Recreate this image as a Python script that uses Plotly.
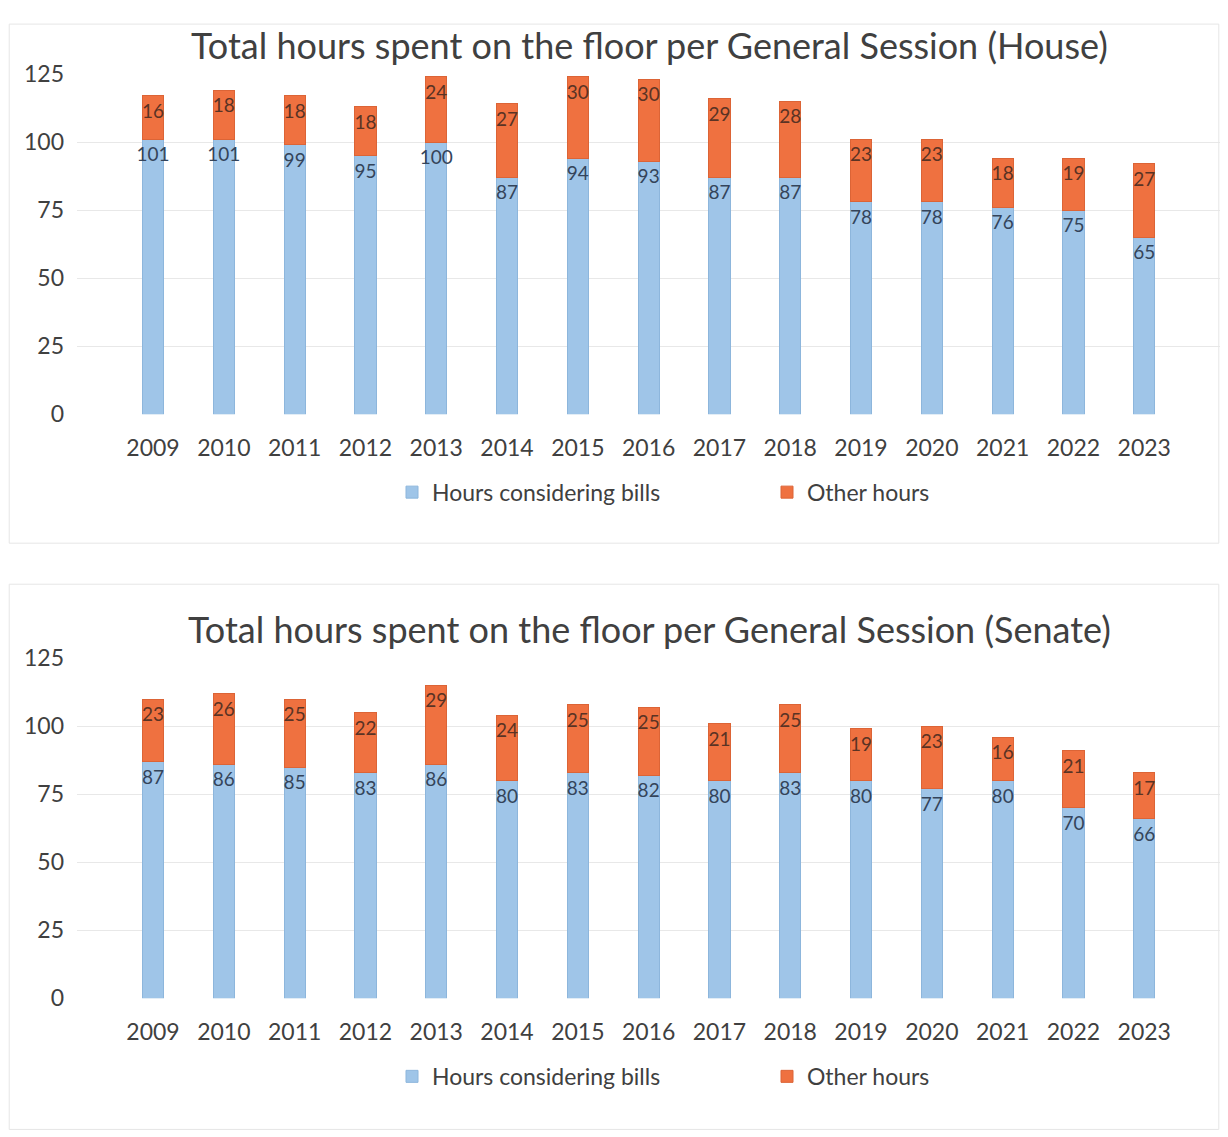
import plotly.graph_objects as go

# data
years = [str(y) for y in range(2009, 2024)]
house_bills = [101, 101, 99, 95, 100, 87, 94, 93, 87, 87, 78, 78, 76, 75, 65]
house_other = [16, 18, 18, 18, 24, 27, 30, 30, 29, 28, 23, 23, 18, 19, 27]
senate_bills = [87, 86, 85, 83, 86, 80, 83, 82, 80, 83, 80, 77, 80, 70, 66]
senate_other = [23, 26, 25, 22, 29, 24, 25, 25, 21, 25, 19, 23, 16, 21, 17]
y_ticks = [0, 25, 50, 75, 100, 125]

blue = '#9FC5E8'
orange = '#EF7140'
txt = '#404040'
font_name = 'Lato'

# the page puts the figure at x+8 and squeezes it a bit vertically,
# so map target pixel positions back into paper coords
OFF_X = 8
OFF_Y, SY = 22, 0.975
W, H = 1228 - 2 * OFF_X, 1137


def px_x(p):
    return min(max((p - OFF_X) / W, 0.0), 1.0)


def px_y(p):
    return min(max(1 - (p - OFF_Y) / SY / H, 0.0), 1.0)


fig = go.Figure()

panels = [
    (house_bills, house_other, 'x', 'y', 'legend'),
    (senate_bills, senate_other, 'x2', 'y2', 'legend2'),
]
for bills, other, xa, ya, lg in panels:
    fig.add_trace(go.Bar(x=years, y=bills, name='Hours considering bills',
                         marker=dict(color=blue, line=dict(color='#8DB6DC', width=1)),
                         width=0.3, text=bills, textposition='inside',
                         insidetextanchor='end', textangle=0, constraintext='none',
                         textfont=dict(color='#34445A', size=19, family=font_name),
                         xaxis=xa, yaxis=ya, legend=lg))
    fig.add_trace(go.Bar(x=years, y=other, name='Other hours',
                         marker=dict(color=orange, line=dict(color='#DC6436', width=1)),
                         width=0.3, text=other, textposition='inside',
                         insidetextanchor='end', textangle=0, constraintext='none',
                         textfont=dict(color='#5A3324', size=19, family=font_name),
                         xaxis=xa, yaxis=ya, legend=lg))

# plot area runs from x=77 to the right edge of the figure
x_dom = [px_x(77), 1.0]
axis_x = dict(type='category', range=[-1.074, 15.07], showgrid=False, showline=False,
              zeroline=False, ticks='', ticklabelstandoff=18,
              tickfont=dict(size=23, color=txt, family=font_name))
axis_y = dict(range=[0, 125], tickvals=y_ticks, showgrid=True, gridcolor='#E8E8E8',
              gridwidth=1, zeroline=False, showline=False, ticks='', ticklabelstandoff=12,
              tickfont=dict(size=23, color=txt, family=font_name))

legend_style = dict(orientation='h', xanchor='left', yanchor='middle', traceorder='normal',
                    font=dict(size=23, color=txt, family=font_name),
                    entrywidth=330, entrywidthmode='pixels',
                    bgcolor='rgba(0,0,0,0)')

fig.update_layout(
    width=W, height=H, margin=dict(l=0, r=0, t=0, b=0),
    paper_bgcolor='white', plot_bgcolor='white',
    barmode='stack', font=dict(family=font_name, color=txt),
    xaxis=dict(domain=x_dom, anchor='y', **axis_x),
    yaxis=dict(domain=[px_y(413), px_y(73)], anchor='x', **axis_y),
    xaxis2=dict(domain=x_dom, anchor='y2', **axis_x),
    yaxis2=dict(domain=[px_y(997), px_y(657)], anchor='x2', **axis_y),
    legend=dict(x=px_x(392), y=px_y(491), **legend_style),
    legend2=dict(x=px_x(392), y=px_y(1075), **legend_style),
    shapes=[
        dict(type='rect', xref='paper', yref='paper', x0=0.001, x1=0.999,
             y0=px_y(542), y1=0.999, line=dict(color='#E6E6E6', width=1)),
        dict(type='rect', xref='paper', yref='paper', x0=0.001, x1=0.999,
             y0=px_y(1128), y1=px_y(583), line=dict(color='#E6E6E6', width=1)),
    ],
    annotations=[
        dict(text='Total hours spent on the floor per General Session (House)',
             xref='paper', yref='paper', x=px_x(649), y=px_y(44), showarrow=False,
             xanchor='center', yanchor='middle',
             font=dict(size=36, color=txt, family=font_name)),
        dict(text='Total hours spent on the floor per General Session (Senate)',
             xref='paper', yref='paper', x=px_x(649), y=px_y(628), showarrow=False,
             xanchor='center', yanchor='middle',
             font=dict(size=36, color=txt, family=font_name)),
    ],
)

fig.write_html("out.html")
